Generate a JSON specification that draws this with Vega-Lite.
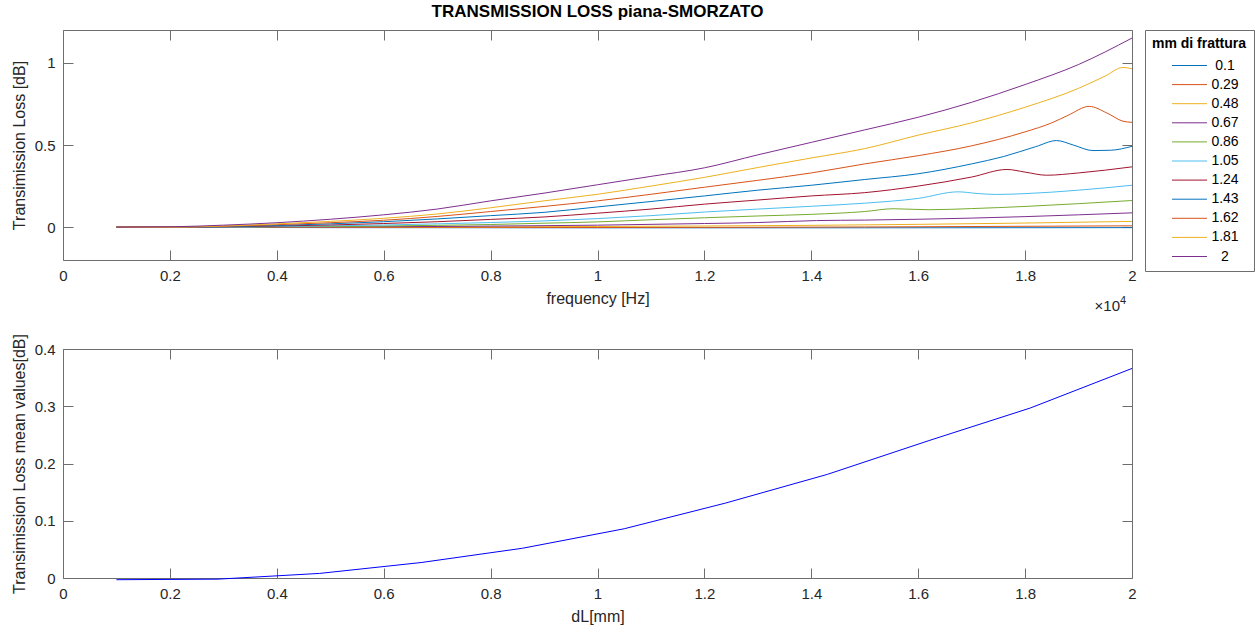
{
  "$schema": "https://vega.github.io/schema/vega-lite/v6.json",
  "padding": {"left": 10, "top": 2, "right": 1, "bottom": 4},
  "background": "white",
  "datasets": {
    "tl": [
      {"mm":"0.1","f":1000,"tl":0},{"mm":"0.1","f":5000,"tl":-0.003},{"mm":"0.1","f":10000,"tl":-0.004},{"mm":"0.1","f":15000,"tl":-0.004},{"mm":"0.1","f":20000,"tl":-0.003},
      {"mm":"0.29","f":1000,"tl":0},{"mm":"0.29","f":5000,"tl":-0.002},{"mm":"0.29","f":10000,"tl":-0.002},{"mm":"0.29","f":15000,"tl":0.001},{"mm":"0.29","f":20000,"tl":0.008},
      {"mm":"0.48","f":1000,"tl":0},{"mm":"0.48","f":8000,"tl":0.002},{"mm":"0.48","f":10000,"tl":0.004},{"mm":"0.48","f":12000,"tl":0.007},{"mm":"0.48","f":14000,"tl":0.011},{"mm":"0.48","f":16000,"tl":0.017},{"mm":"0.48","f":18000,"tl":0.025},{"mm":"0.48","f":20000,"tl":0.035},
      {"mm":"0.67","f":1000,"tl":0},{"mm":"0.67","f":5000,"tl":0.001},{"mm":"0.67","f":7000,"tl":0.004},{"mm":"0.67","f":9000,"tl":0.009},{"mm":"0.67","f":10000,"tl":0.012},{"mm":"0.67","f":11000,"tl":0.017},{"mm":"0.67","f":12000,"tl":0.022},{"mm":"0.67","f":13000,"tl":0.028},{"mm":"0.67","f":14100,"tl":0.04},{"mm":"0.67","f":15000,"tl":0.043},{"mm":"0.67","f":16000,"tl":0.048},{"mm":"0.67","f":17000,"tl":0.055},{"mm":"0.67","f":18000,"tl":0.064},{"mm":"0.67","f":19000,"tl":0.075},{"mm":"0.67","f":20000,"tl":0.087},
      {"mm":"0.86","f":1000,"tl":0},{"mm":"0.86","f":4000,"tl":0.002},{"mm":"0.86","f":5000,"tl":0.004},{"mm":"0.86","f":6000,"tl":0.007},{"mm":"0.86","f":7000,"tl":0.011},{"mm":"0.86","f":8000,"tl":0.016},{"mm":"0.86","f":9000,"tl":0.024},{"mm":"0.86","f":10000,"tl":0.032},{"mm":"0.86","f":11000,"tl":0.045},{"mm":"0.86","f":12000,"tl":0.057},{"mm":"0.86","f":13000,"tl":0.068},{"mm":"0.86","f":14000,"tl":0.078},{"mm":"0.86","f":15000,"tl":0.095},{"mm":"0.86","f":15530,"tl":0.112},{"mm":"0.86","f":16200,"tl":0.106},{"mm":"0.86","f":17000,"tl":0.113},{"mm":"0.86","f":18000,"tl":0.126},{"mm":"0.86","f":19000,"tl":0.143},{"mm":"0.86","f":20000,"tl":0.162},
      {"mm":"1.05","f":1000,"tl":0},{"mm":"1.05","f":3000,"tl":0},{"mm":"1.05","f":4000,"tl":0.004},{"mm":"1.05","f":5000,"tl":0.008},{"mm":"1.05","f":6000,"tl":0.013},{"mm":"1.05","f":7000,"tl":0.02},{"mm":"1.05","f":8000,"tl":0.028},{"mm":"1.05","f":9000,"tl":0.038},{"mm":"1.05","f":10000,"tl":0.052},{"mm":"1.05","f":11000,"tl":0.07},{"mm":"1.05","f":12000,"tl":0.092},{"mm":"1.05","f":13000,"tl":0.11},{"mm":"1.05","f":14000,"tl":0.127},{"mm":"1.05","f":15000,"tl":0.146},{"mm":"1.05","f":16000,"tl":0.175},{"mm":"1.05","f":16750,"tl":0.215},{"mm":"1.05","f":17100,"tl":0.205},{"mm":"1.05","f":17470,"tl":0.199},{"mm":"1.05","f":18000,"tl":0.204},{"mm":"1.05","f":19000,"tl":0.225},{"mm":"1.05","f":20000,"tl":0.255},
      {"mm":"1.24","f":1000,"tl":0},{"mm":"1.24","f":2000,"tl":0},{"mm":"1.24","f":3000,"tl":0.002},{"mm":"1.24","f":4000,"tl":0.007},{"mm":"1.24","f":5000,"tl":0.013},{"mm":"1.24","f":6000,"tl":0.022},{"mm":"1.24","f":7000,"tl":0.033},{"mm":"1.24","f":8000,"tl":0.047},{"mm":"1.24","f":9000,"tl":0.062},{"mm":"1.24","f":10000,"tl":0.085},{"mm":"1.24","f":11000,"tl":0.11},{"mm":"1.24","f":12000,"tl":0.14},{"mm":"1.24","f":13000,"tl":0.165},{"mm":"1.24","f":14000,"tl":0.19},{"mm":"1.24","f":15000,"tl":0.21},{"mm":"1.24","f":16000,"tl":0.25},{"mm":"1.24","f":17000,"tl":0.305},{"mm":"1.24","f":17660,"tl":0.351},{"mm":"1.24","f":18000,"tl":0.335},{"mm":"1.24","f":18400,"tl":0.316},{"mm":"1.24","f":19000,"tl":0.33},{"mm":"1.24","f":20000,"tl":0.367},
      {"mm":"1.43","f":1000,"tl":0},{"mm":"1.43","f":2000,"tl":0},{"mm":"1.43","f":3000,"tl":0.003},{"mm":"1.43","f":4000,"tl":0.01},{"mm":"1.43","f":5000,"tl":0.02},{"mm":"1.43","f":6000,"tl":0.033},{"mm":"1.43","f":7000,"tl":0.05},{"mm":"1.43","f":8000,"tl":0.07},{"mm":"1.43","f":9000,"tl":0.09},{"mm":"1.43","f":10000,"tl":0.123},{"mm":"1.43","f":11000,"tl":0.156},{"mm":"1.43","f":12000,"tl":0.19},{"mm":"1.43","f":13000,"tl":0.225},{"mm":"1.43","f":14000,"tl":0.255},{"mm":"1.43","f":15000,"tl":0.29},{"mm":"1.43","f":16000,"tl":0.325},{"mm":"1.43","f":17000,"tl":0.385},{"mm":"1.43","f":17600,"tl":0.43},{"mm":"1.43","f":18200,"tl":0.49},{"mm":"1.43","f":18590,"tl":0.527},{"mm":"1.43","f":18900,"tl":0.5},{"mm":"1.43","f":19270,"tl":0.466},{"mm":"1.43","f":19600,"tl":0.468},{"mm":"1.43","f":20000,"tl":0.492},
      {"mm":"1.62","f":1000,"tl":0},{"mm":"1.62","f":2000,"tl":0},{"mm":"1.62","f":3000,"tl":0.005},{"mm":"1.62","f":4000,"tl":0.015},{"mm":"1.62","f":5000,"tl":0.027},{"mm":"1.62","f":6000,"tl":0.042},{"mm":"1.62","f":7000,"tl":0.065},{"mm":"1.62","f":8000,"tl":0.095},{"mm":"1.62","f":9000,"tl":0.126},{"mm":"1.62","f":10000,"tl":0.16},{"mm":"1.62","f":11000,"tl":0.2},{"mm":"1.62","f":12000,"tl":0.243},{"mm":"1.62","f":13000,"tl":0.285},{"mm":"1.62","f":14000,"tl":0.33},{"mm":"1.62","f":15000,"tl":0.385},{"mm":"1.62","f":16000,"tl":0.435},{"mm":"1.62","f":17000,"tl":0.495},{"mm":"1.62","f":18000,"tl":0.58},{"mm":"1.62","f":18500,"tl":0.635},{"mm":"1.62","f":18800,"tl":0.68},{"mm":"1.62","f":19200,"tl":0.735},{"mm":"1.62","f":19530,"tl":0.695},{"mm":"1.62","f":19830,"tl":0.645},{"mm":"1.62","f":20000,"tl":0.638},
      {"mm":"1.81","f":1000,"tl":0},{"mm":"1.81","f":2000,"tl":0},{"mm":"1.81","f":3000,"tl":0.007},{"mm":"1.81","f":4000,"tl":0.02},{"mm":"1.81","f":5000,"tl":0.035},{"mm":"1.81","f":6000,"tl":0.054},{"mm":"1.81","f":7000,"tl":0.08},{"mm":"1.81","f":8000,"tl":0.118},{"mm":"1.81","f":9000,"tl":0.16},{"mm":"1.81","f":10000,"tl":0.2},{"mm":"1.81","f":11000,"tl":0.25},{"mm":"1.81","f":12000,"tl":0.303},{"mm":"1.81","f":13000,"tl":0.363},{"mm":"1.81","f":14000,"tl":0.421},{"mm":"1.81","f":15000,"tl":0.478},{"mm":"1.81","f":16000,"tl":0.56},{"mm":"1.81","f":17000,"tl":0.635},{"mm":"1.81","f":18000,"tl":0.73},{"mm":"1.81","f":19000,"tl":0.845},{"mm":"1.81","f":19500,"tl":0.92},{"mm":"1.81","f":19830,"tl":0.972},{"mm":"1.81","f":20000,"tl":0.964},
      {"mm":"2","f":1000,"tl":0},{"mm":"2","f":2000,"tl":0.002},{"mm":"2","f":3000,"tl":0.012},{"mm":"2","f":4000,"tl":0.027},{"mm":"2","f":5000,"tl":0.048},{"mm":"2","f":6000,"tl":0.075},{"mm":"2","f":7000,"tl":0.11},{"mm":"2","f":8000,"tl":0.16},{"mm":"2","f":9000,"tl":0.207},{"mm":"2","f":10000,"tl":0.258},{"mm":"2","f":11000,"tl":0.309},{"mm":"2","f":12000,"tl":0.361},{"mm":"2","f":13000,"tl":0.44},{"mm":"2","f":14000,"tl":0.516},{"mm":"2","f":15000,"tl":0.592},{"mm":"2","f":16000,"tl":0.669},{"mm":"2","f":17000,"tl":0.76},{"mm":"2","f":18000,"tl":0.868},{"mm":"2","f":19000,"tl":0.99},{"mm":"2","f":20000,"tl":1.151}
    ],
    "mean": [
      {"dL":0.1,"m":-0.003},{"dL":0.29,"m":-0.002},{"dL":0.48,"m":0.008},{"dL":0.67,"m":0.027},{"dL":0.86,"m":0.052},{"dL":1.05,"m":0.086},{"dL":1.24,"m":0.131},{"dL":1.43,"m":0.181},{"dL":1.62,"m":0.24},{"dL":1.81,"m":0.297},{"dL":2.0,"m":0.366}
    ]
  },
  "vconcat": [
    {
      "width": 1069,
      "height": 230,
      "title": {"text": "TRANSMISSION LOSS piana-SMORZATO", "fontSize": 17, "fontWeight": "bold", "color": "black", "anchor": "middle", "frame": "group", "offset": 9},
      "data": {"name": "tl"},
      "layer": [
        {
          "mark": {"type": "line", "strokeWidth": 1, "interpolate": "monotone"},
          "encoding": {
            "x": {"field": "f", "type": "quantitative", "scale": {"domain": [0, 20000], "nice": false, "zero": false},
                  "axis": {"values": [0,2000,4000,6000,8000,10000,12000,14000,16000,18000,20000], "labelExpr": "'' + datum.value/10000", "title": "frequency [Hz]"}},
            "y": {"field": "tl", "type": "quantitative", "scale": {"domain": [-0.2, 1.2], "nice": false, "zero": false},
                  "axis": {"values": [0, 0.5, 1], "format": "~g", "title": "Transimission Loss [dB]"}},
            "color": {"field": "mm", "type": "nominal",
                      "scale": {"domain": ["0.1","0.29","0.48","0.67","0.86","1.05","1.24","1.43","1.62","1.81","2"],
                                "range": ["#0072BD","#D95319","#EDB120","#7E2F8E","#77AC30","#4DBEEE","#A2142F","#0072BD","#D95319","#EDB120","#7E2F8E"]},
                      "legend": {"title": "mm di frattura",
                                 "encode": {"symbols": {"update": {"stroke": {"scale": "color", "field": "value"}, "strokeWidth": {"value": 1}}}}}},
            "order": {"field": "f", "type": "quantitative"}
          }
        },
        {
          "mark": {"type": "line", "strokeOpacity": 0},
          "encoding": {
            "x": {"field": "f", "type": "quantitative", "axis": {"orient": "top", "values": [0,2000,4000,6000,8000,10000,12000,14000,16000,18000,20000], "labels": false, "title": null}},
            "y": {"field": "tl", "type": "quantitative", "axis": {"orient": "right", "values": [0, 0.5, 1], "labels": false, "title": null}},
            "detail": {"field": "mm", "type": "nominal"}
          }
        },
        {
          "data": {"values": [{}]},
          "mark": {"type": "text", "align": "right", "baseline": "alphabetic", "dy": 51, "dx": -12, "fontSize": 15, "color": "#262626"},
          "encoding": {
            "x": {"datum": 20000, "type": "quantitative", "axis": null},
            "y": {"datum": -0.2, "type": "quantitative", "axis": null},
            "text": {"value": "×10"}
          }
        },
        {
          "data": {"values": [{}]},
          "mark": {"type": "text", "align": "left", "baseline": "alphabetic", "dy": 44, "dx": -12, "fontSize": 11, "color": "#262626"},
          "encoding": {
            "x": {"datum": 20000, "type": "quantitative", "axis": null},
            "y": {"datum": -0.2, "type": "quantitative", "axis": null},
            "text": {"value": "4"}
          }
        }
      ],
      "resolve": {"axis": {"x": "independent", "y": "independent"}}
    },
    {
      "width": 1069,
      "height": 229,
      "data": {"name": "mean"},
      "layer": [
        {
          "mark": {"type": "line", "strokeWidth": 1, "color": "#0000FF"},
          "encoding": {
            "x": {"field": "dL", "type": "quantitative", "scale": {"domain": [0, 2], "nice": false},
                  "axis": {"values": [0,0.2,0.4,0.6,0.8,1,1.2,1.4,1.6,1.8,2], "format": "~g", "title": "dL[mm]"}},
            "y": {"field": "m", "type": "quantitative", "scale": {"domain": [0, 0.4], "nice": false, "zero": false},
                  "axis": {"values": [0,0.1,0.2,0.3,0.4], "format": "~g", "title": "Transimission Loss mean values[dB]"}}
          }
        },
        {
          "mark": {"type": "line", "strokeOpacity": 0},
          "encoding": {
            "x": {"field": "dL", "type": "quantitative", "axis": {"orient": "top", "values": [0,0.2,0.4,0.6,0.8,1,1.2,1.4,1.6,1.8,2], "labels": false, "title": null}},
            "y": {"field": "m", "type": "quantitative", "axis": {"orient": "right", "values": [0,0.1,0.2,0.3,0.4], "labels": false, "title": null}}
          }
        }
      ],
      "resolve": {"axis": {"x": "independent", "y": "independent"}}
    }
  ],
  "spacing": 89,
  "bounds": "flush",
  "config": {
    "font": "Liberation Sans",
    "view": {"stroke": "#6e6e6e", "strokeWidth": 1},
    "axis": {
      "grid": false, "domain": false,
      "tickSize": -10, "tickColor": "#6e6e6e", "tickWidth": 1,
      "labelFontSize": 15, "labelColor": "#262626", "labelPadding": 18, "labelFlush": false,
      "titleFontSize": 16, "titleColor": "#262626", "titleFontWeight": "normal", "titlePadding": 7
    },
    "legend": {
      "orient": "right", "offset": 8,
      "strokeColor": "#6e6e6e", "fillColor": "white", "padding": 7,
      "titleFontSize": 14, "titleFontWeight": "bold", "titleColor": "black", "titlePadding": 7, "titleAnchor": "middle",
      "labelFontSize": 14, "labelColor": "black", "labelAlign": "center", "labelOffset": 28,
      "symbolType": "M-2.5,0H2.5", "symbolSize": 196, "symbolStrokeWidth": 1, "symbolOffset": 22,
      "rowPadding": 4.1
    }
  }
}
